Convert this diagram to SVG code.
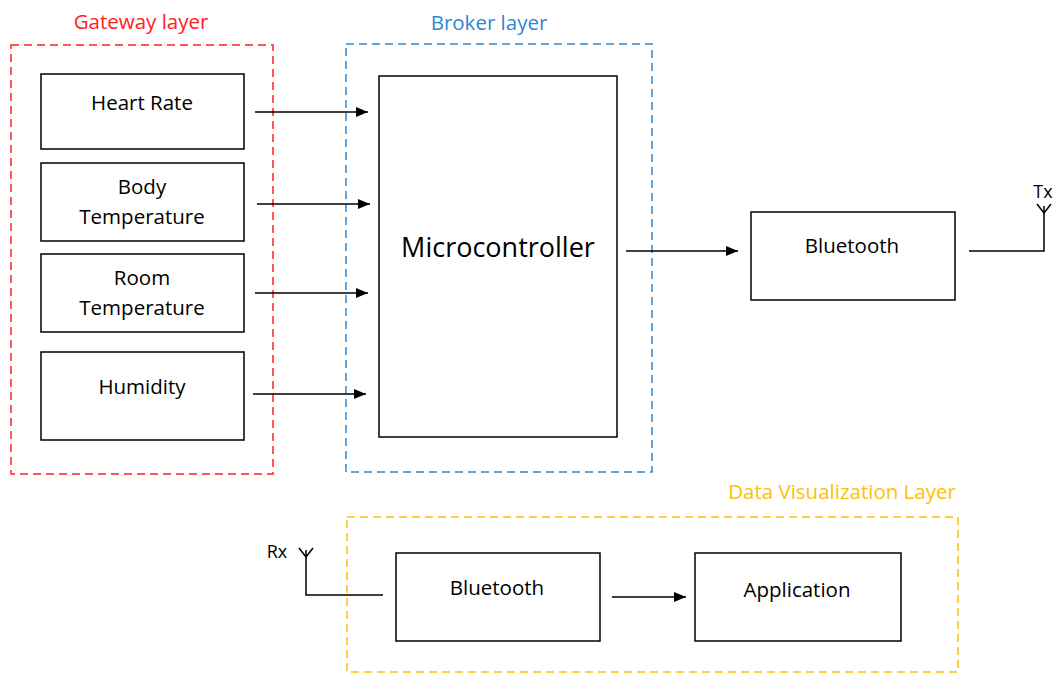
<svg xmlns="http://www.w3.org/2000/svg" width="1054" height="673" viewBox="0 0 1054 673">
<defs>
<marker id="arr" markerWidth="12" markerHeight="10" refX="12" refY="5" orient="auto" markerUnits="userSpaceOnUse">
<path d="M0,0 L12,5 L0,10 Z" fill="#000"/>
</marker>
<style>
.box{fill:#fff;stroke:#000;stroke-width:1.5}
.t{font-family:"Open Sans","Liberation Sans",sans-serif;font-size:20.5px;fill:#000;text-anchor:middle}
.lay{fill:none;stroke-width:1.5;stroke-dasharray:8,5}
.ln{stroke:#000;stroke-width:1.5;fill:none}
.arrow{stroke:#000;stroke-width:1.5;fill:none;marker-end:url(#arr)}
</style>
</defs>
<rect width="1054" height="673" fill="#fff"/>
<g id="layers">
<rect class="lay" x="11" y="45" width="262" height="429" stroke="#FF2020"/>
<text class="t" x="141" y="29" style="fill:#FF2020">Gateway layer</text>
<rect class="lay" x="346" y="44" width="306" height="428" stroke="#2F86D4"/>
<text class="t" x="489" y="30" style="fill:#2F86D4">Broker layer</text>
<rect class="lay" x="347" y="517" width="611" height="155" stroke="#FFC000"/>
<text class="t" x="842" y="499" style="fill:#FFC000">Data Visualization Layer</text>
</g>
<g id="heart-rate"><rect class="box" x="41" y="74" width="203" height="75"/><text class="t" x="142" y="110">Heart Rate</text></g>
<g id="body-temperature"><rect class="box" x="41" y="163" width="203" height="78"/><text class="t" x="142" y="194">Body</text><text class="t" x="142" y="224">Temperature</text></g>
<g id="room-temperature"><rect class="box" x="41" y="254" width="203" height="78"/><text class="t" x="142" y="285">Room</text><text class="t" x="142" y="315">Temperature</text></g>
<g id="humidity"><rect class="box" x="41" y="352" width="203" height="88"/><text class="t" x="142" y="394">Humidity</text></g>
<g id="microcontroller"><rect class="box" x="379" y="76" width="238" height="361"/><text class="t" x="498" y="257" style="font-size:27px">Microcontroller</text></g>
<g id="bluetooth-tx"><rect class="box" x="751" y="212" width="204" height="88"/><text class="t" x="852" y="253">Bluetooth</text></g>
<g id="bluetooth-rx"><rect class="box" x="396" y="553" width="204" height="88"/><text class="t" x="497" y="595">Bluetooth</text></g>
<g id="application"><rect class="box" x="695" y="553" width="206" height="88"/><text class="t" x="797" y="597">Application</text></g>
<g id="connectors">
<line class="arrow" x1="255" y1="112" x2="368" y2="112"/>
<line class="arrow" x1="257" y1="204" x2="370" y2="204"/>
<line class="arrow" x1="255" y1="293" x2="368" y2="293"/>
<line class="arrow" x1="253" y1="394" x2="366" y2="394"/>
<line class="arrow" x1="626" y1="251" x2="738" y2="251"/>
<line class="arrow" x1="612" y1="597" x2="686" y2="597"/>
<polyline class="ln" points="969,251 1044,251 1044,206"/>
<polyline class="ln" points="1037,204 1044,213 1051,204"/>
<text class="t" x="1043" y="198" style="font-size:18px">Tx</text>
<polyline class="ln" points="383,595 306,595 306,550"/>
<polyline class="ln" points="299,548 306,557 313,548"/>
<text class="t" x="277" y="558" style="font-size:18px">Rx</text>
</g>
</svg>
